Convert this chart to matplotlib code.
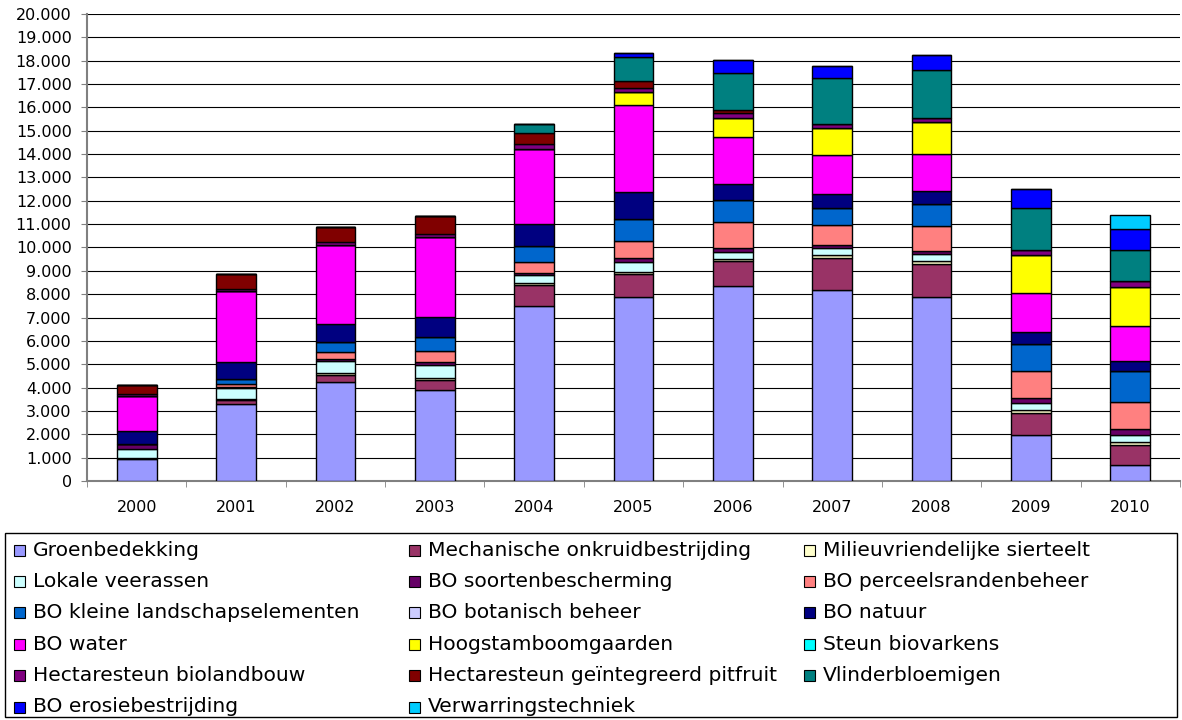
import numpy as np
import matplotlib
matplotlib.use("Agg")
import matplotlib.pyplot as plt
from matplotlib.patches import Rectangle
from matplotlib.ticker import FuncFormatter, MultipleLocator

plt.rcParams['font.family'] = ['DejaVu Sans']

years = ['2000', '2001', '2002', '2003', '2004', '2005', '2006', '2007', '2008', '2009', '2010']

# series in stacking order (bottom -> top)
groenbedekking = [950, 3290, 4220, 3876, 7511, 7884, 8369, 8197, 7897, 1974, 700]
mechanische = [30, 186, 300, 429, 871, 987, 1043, 1361, 1416, 957, 845]
milieuvriendelijk = [20, 40, 115, 100, 80, 80, 115, 120, 130, 130, 130]
lokale_veerassen = [370, 462, 515, 574, 349, 435, 271, 310, 287, 300, 299]
bo_soorten = [215, 60, 80, 100, 80, 150, 189, 110, 141, 188, 271]
bo_perceelsranden = [0, 120, 294, 470, 495, 734, 1116, 859, 1043, 1142, 1158]
bo_kleine_landschap = [0, 207, 429, 601, 670, 932, 914, 717, 962, 1189, 1288]
bo_botanisch = [0, 0, 0, 0, 0, 0, 0, 0, 0, 0, 0]
bo_natuur = [558, 712, 785, 859, 961, 1188, 687, 601, 540, 485, 429]
bo_water = [1515, 3078, 3378, 3433, 3219, 3717, 2030, 1686, 1575, 1691, 1502]
hoogstam = [0, 0, 0, 0, 0, 533, 833, 1146, 1387, 1631, 1691]
steun_biovarkens = [0, 0, 0, 0, 0, 0, 0, 0, 0, 0, 0]
ha_biolandbouw = [80, 80, 100, 130, 184, 171, 197, 203, 189, 197, 241]
ha_pitfruit = [379, 635, 672, 771, 473, 327, 129, 0, 0, 0, 0]
vlinderbloemigen = [0, 0, 0, 0, 407, 1029, 1562, 1943, 2047, 1790, 1360]
bo_erosie = [0, 0, 0, 0, 0, 146, 584, 502, 639, 815, 859]
verwarring = [0, 0, 0, 0, 0, 0, 0, 0, 0, 0, 600]

series = [
    ('Groenbedekking', groenbedekking, '#9999FF'),
    ('Mechanische onkruidbestrijding', mechanische, '#993366'),
    ('Milieuvriendelijke sierteelt', milieuvriendelijk, '#FFFFCC'),
    ('Lokale veerassen', lokale_veerassen, '#CCFFFF'),
    ('BO soortenbescherming', bo_soorten, '#660066'),
    ('BO perceelsrandenbeheer', bo_perceelsranden, '#FF8080'),
    ('BO kleine landschapselementen', bo_kleine_landschap, '#0066CC'),
    ('BO botanisch beheer', bo_botanisch, '#CCCCFF'),
    ('BO natuur', bo_natuur, '#000080'),
    ('BO water', bo_water, '#FF00FF'),
    ('Hoogstamboomgaarden', hoogstam, '#FFFF00'),
    ('Steun biovarkens', steun_biovarkens, '#00FFFF'),
    ('Hectaresteun biolandbouw', ha_biolandbouw, '#800080'),
    ('Hectaresteun geïntegreerd pitfruit', ha_pitfruit, '#800000'),
    ('Vlinderbloemigen', vlinderbloemigen, '#008080'),
    ('BO erosiebestrijding', bo_erosie, '#0000FF'),
    ('Verwarringstechniek', verwarring, '#00CCFF'),
]

W, H = 1182, 720
fig = plt.figure(figsize=(W / 100, H / 100), dpi=100)
ax = fig.add_axes([87 / W, 1 - 481 / H, 1093 / W, 467 / H])

x = np.arange(len(years))
bottom = np.zeros(len(years))
for name, vals, col in series:
    vals = np.array(vals, dtype=float)
    ax.bar(x, vals, width=0.4, bottom=bottom, color=col, edgecolor='black',
           linewidth=1.0, zorder=3)
    bottom += vals

ax.set_xlim(-0.5, len(years) - 0.5)
ax.set_ylim(0, 20000)
ax.yaxis.set_major_locator(MultipleLocator(1000))
ax.yaxis.set_major_formatter(FuncFormatter(
    lambda v, p: '0' if v == 0 else f'{int(v):,}'.replace(',', '.')))
ax.set_xticks(x)
ax.set_xticklabels(years)
ax.set_xticks(np.arange(-0.5, len(years)), minor=True)
ax.tick_params(axis='x', which='major', length=0, pad=14, labelsize=11.5)
ax.tick_params(axis='x', which='minor', length=4, direction='out', color='#808080')
ax.tick_params(axis='y', length=4, direction='out', labelsize=11.5, pad=7,
               color='#808080')
ax.grid(axis='y', color='black', linewidth=0.8, zorder=0)
for s in ['top', 'right']:
    ax.spines[s].set_visible(False)
for s in ['left', 'bottom']:
    ax.spines[s].set_color('#808080')
    ax.spines[s].set_linewidth(1.5)

# legend drawn by hand: 3 columns, row-major, like the spreadsheet one
box_l, box_t, box_r, box_b = 5, 533, 1177, 717
fig.patches.append(Rectangle((box_l / W, 1 - box_b / H), (box_r - box_l) / W,
                             (box_b - box_t) / H, transform=fig.transFigure,
                             facecolor='white', edgecolor='black', linewidth=1.0))
col_x = [33, 428, 823]
row_y0, row_dy = 550, 31.4
sq = 11
for i, (name, _, col) in enumerate(series):
    r, c = divmod(i, 3)
    tx = col_x[c]
    ty = row_y0 + r * row_dy
    fig.patches.append(Rectangle(((tx - 19) / W, 1 - (ty + sq / 2) / H), sq / W, sq / H,
                                 transform=fig.transFigure, facecolor=col,
                                 edgecolor='black', linewidth=0.8))
    fig.text(tx / W, 1 - ty / H, name, fontsize=14.6, ha='left', va='center')

fig.savefig('out.png', dpi=100)
